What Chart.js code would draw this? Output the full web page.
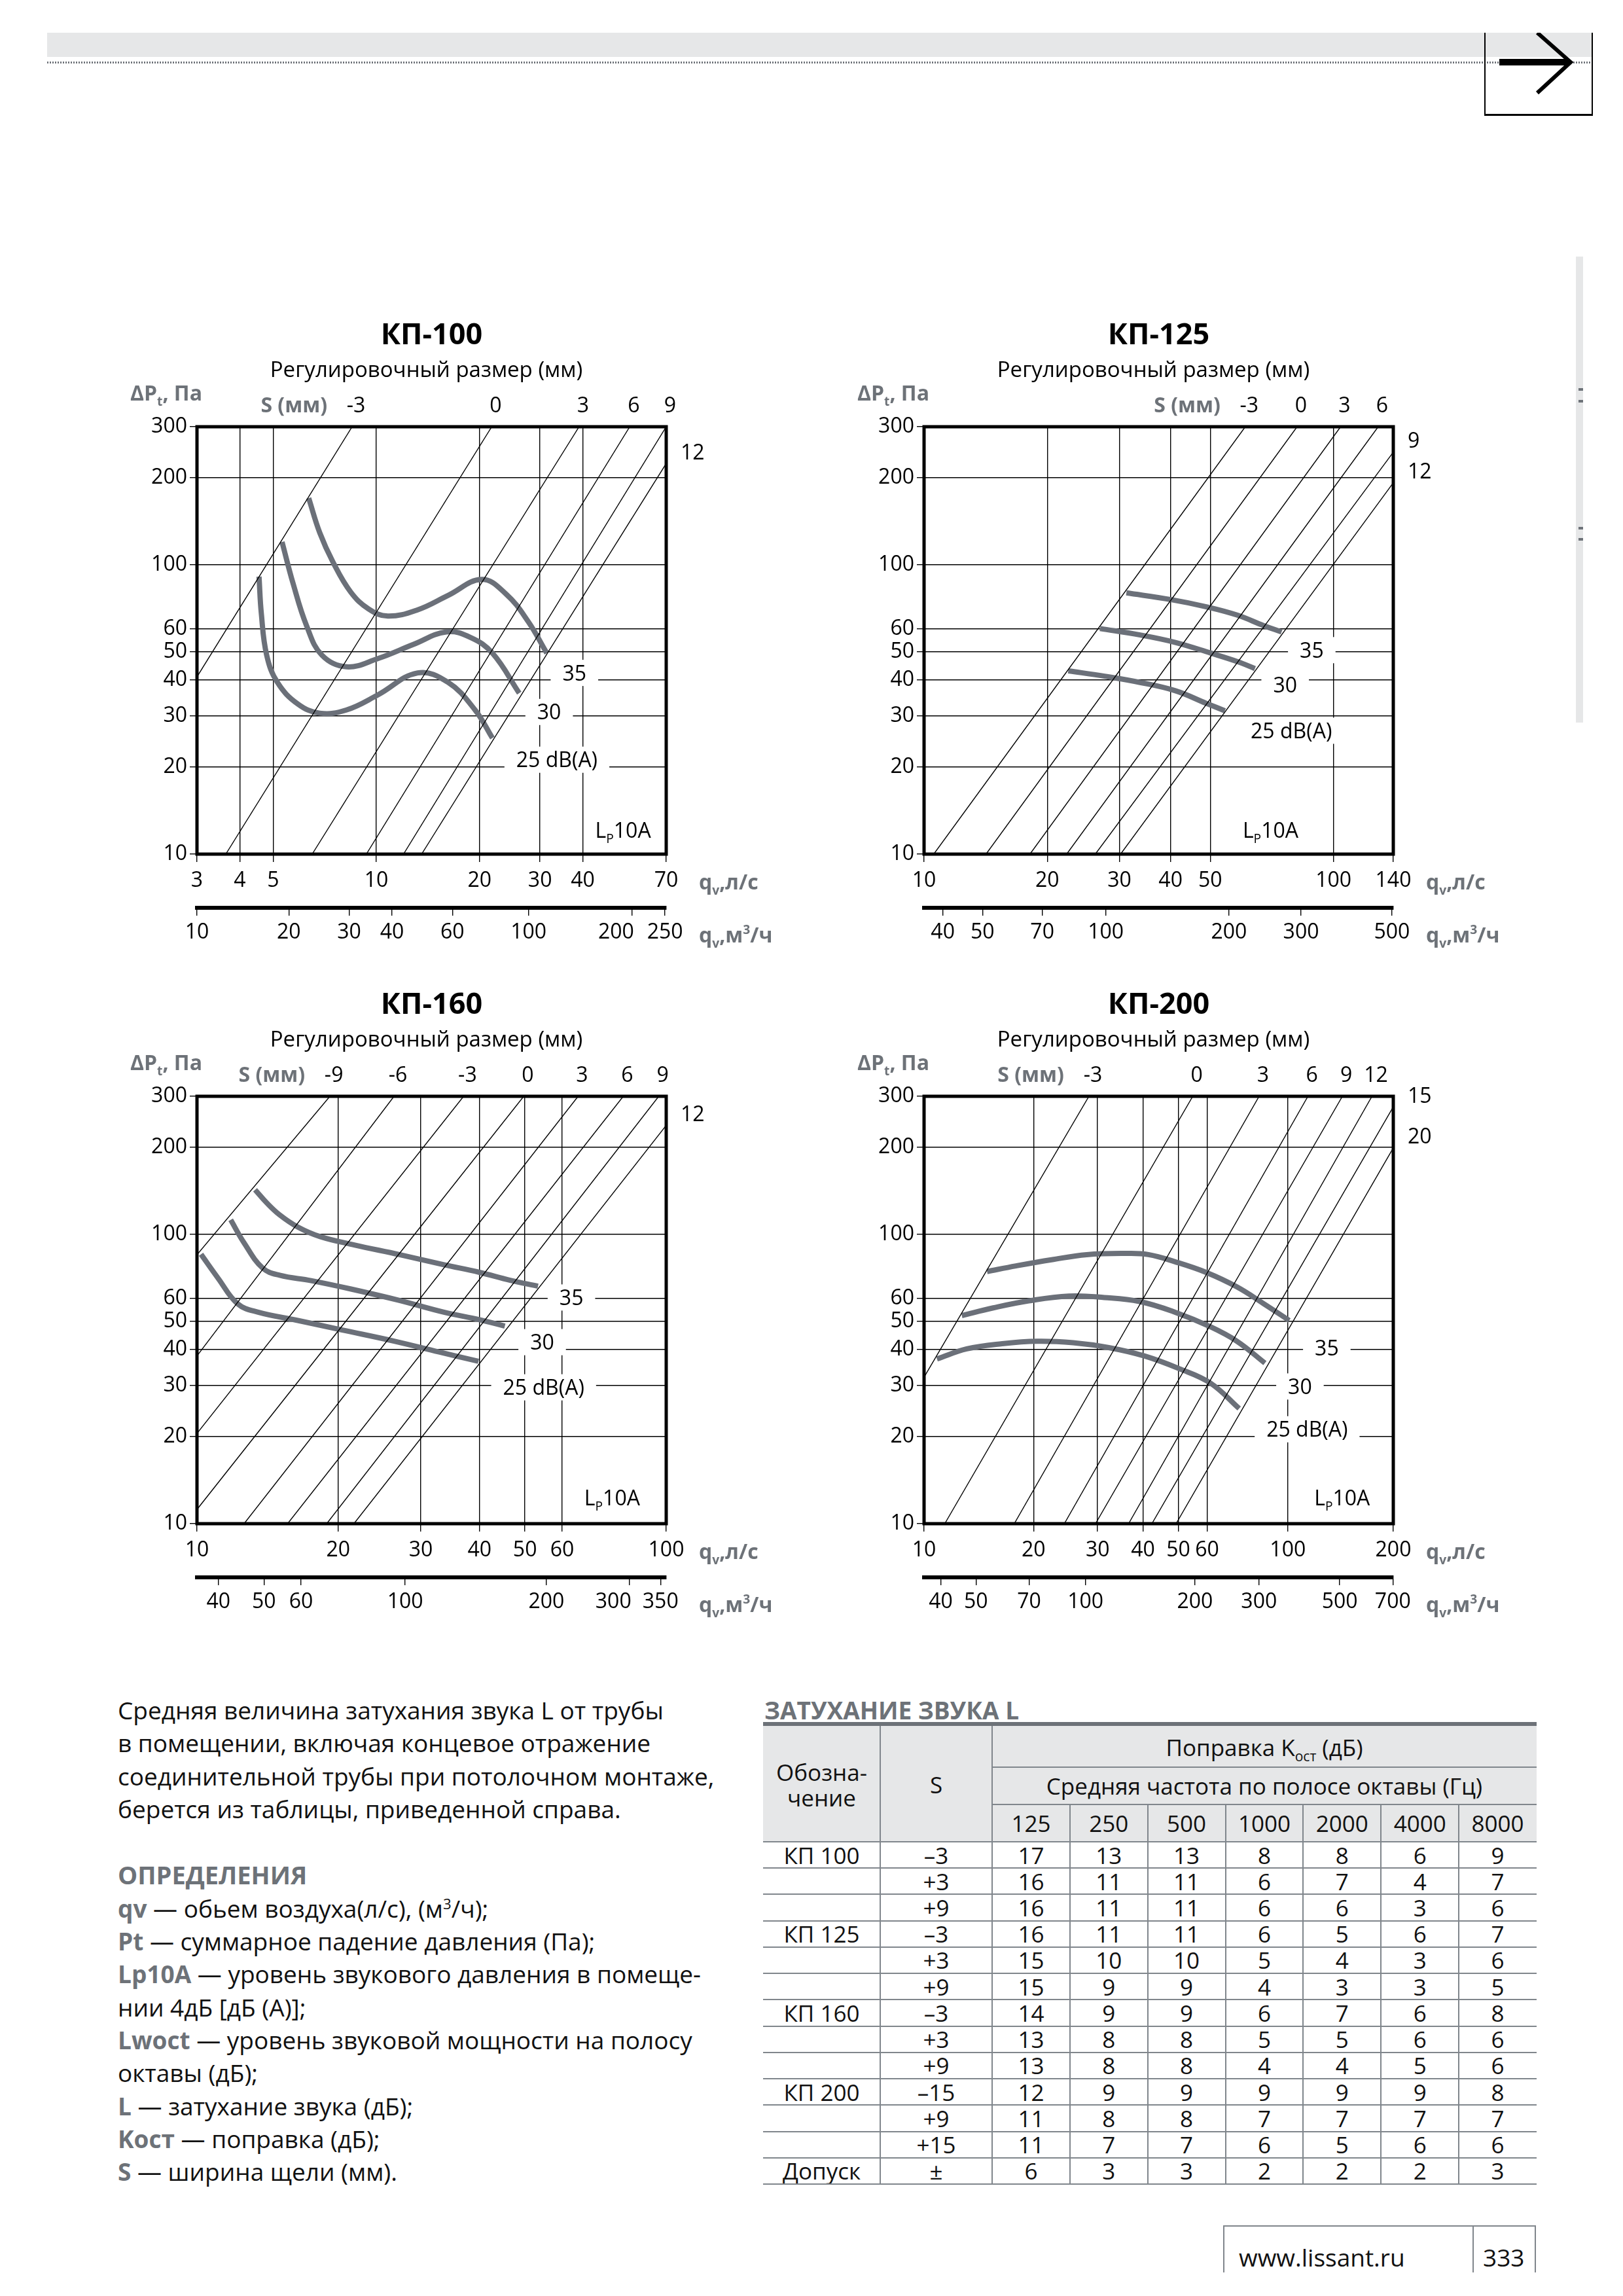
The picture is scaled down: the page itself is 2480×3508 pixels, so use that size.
<!DOCTYPE html>
<html lang="ru">
<head>
<meta charset="utf-8">
<title>КП-100 / КП-125 / КП-160 / КП-200</title>
<script src="https://cdn.jsdelivr.net/npm/chart.js@4.4.1/dist/chart.umd.min.js"></script>
<style>
  html, body { margin: 0; padding: 0; background: #fff; }
  body { width: 2480px; height: 3508px; position: relative; overflow: hidden;
         font-family: 'Open Sans', 'Noto Sans', sans-serif; color: #111; }
  .abs { position: absolute; }
  .band { left: 72px; top: 50px; width: 2360px; height: 37px; background: #e6e7e8; }
  .dots { left: 72px; top: 94px; width: 2360px; height: 3px;
          background: repeating-linear-gradient(90deg, #6d7278 0 2px, transparent 2px 4px); }
  .arrowbox { left: 2268px; top: 50px; width: 162px; height: 124px;
              border-left: 2px solid #000; border-right: 2px solid #000; border-bottom: 3px solid #000; }
  .sidebar { left: 2408px; top: 392px; width: 11px; height: 712px; background: #e6e7e8; }
  .sidemark { left: 2412px; width: 7px; height: 4px; background: #6d7278; }
  .txt { left: 180px; top: 2588px; font-size: 37px; line-height: 50.3px; white-space: nowrap; }
  .txt b { color: #6d7278; font-weight: 700; }
  .txt .h { color: #6d7278; font-weight: 700; font-size: 38px; }
  .ttl { left: 1168px; top: 2588px; font-size: 37px; line-height: 50px; font-weight: 700; color: #6d7278; }
  .cell { display: flex; align-items: center; justify-content: center; font-size: 35px; line-height: 1.12; text-align: center; }
  .ln { background: #80868c; }
  .foot { font-size: 37px; line-height: 50px; }
  sub, sup { font-size: 60%; line-height: 0; }
</style>
</head>
<body>

<div class="abs band"></div>
<div class="abs dots"></div>
<div class="abs arrowbox">
  <svg width="162" height="124" style="position:absolute;left:0;top:0">
    <polyline points="79,0 130,45 79,92" fill="none" stroke="#000" stroke-width="6"/>
    <rect x="21" y="40" width="108" height="10" fill="#000"/>
  </svg>
</div>
<div class="abs sidebar"></div>
<div class="abs sidemark" style="top:593px"></div>
<div class="abs sidemark" style="top:611px"></div>
<div class="abs sidemark" style="top:805px"></div>
<div class="abs sidemark" style="top:822px"></div>

<canvas id="kp100" class="abs" width="1100" height="1000" style="left:150px;top:468px"></canvas>
<canvas id="kp125" class="abs" width="1100" height="1000" style="left:1261px;top:468px"></canvas>
<canvas id="kp160" class="abs" width="1100" height="1000" style="left:150px;top:1491px"></canvas>
<canvas id="kp200" class="abs" width="1100" height="1000" style="left:1261px;top:1491px"></canvas>

<div class="abs txt">
  Средняя величина затухания звука L от трубы<br>
  в помещении, включая концевое отражение<br>
  соединительной трубы при потолочном монтаже,<br>
  берется из таблицы, приведенной справа.<br>
  <br>
  <span class="h">ОПРЕДЕЛЕНИЯ</span><br>
  <b>qv</b> — обьем воздуха(л/с), (м<sup>3</sup>/ч);<br>
  <b>Pt</b> — суммарное падение давления (Па);<br>
  <b>Lp10A</b> — уровень звукового давления в помеще-<br>
  нии 4дБ [дБ (A)];<br>
  <b>Lwoct</b> — уровень звуковой мощности на полосу<br>
  октавы (дБ);<br>
  <b>L</b> — затухание звука (дБ);<br>
  <b>Kост</b> — поправка (дБ);<br>
  <b>S</b> — ширина щели (мм).
</div>

<div class="abs ttl">ЗАТУХАНИЕ ЗВУКА L</div>
<div id="table"></div>

<div class="abs ln" style="left:1869px;top:3400px;width:478px;height:2px"></div>
<div class="abs ln" style="left:1869px;top:3400px;width:2px;height:72px"></div>
<div class="abs ln" style="left:2250px;top:3400px;width:2px;height:72px"></div>
<div class="abs ln" style="left:2345px;top:3400px;width:2px;height:72px"></div>
<div class="abs foot" style="left:1893px;top:3424px">www.lissant.ru</div>
<div class="abs foot" style="left:2266px;top:3424px">333</div>

<script>
// ---- shared axis values ----
const yTicks = [10, 20, 30, 40, 50, 60, 100, 200, 300];
const curveNames = ['35', '30', '25 dB(A)'];

// ---- КП-100 ----
const kp100Ls = [3, 4, 5, 10, 20, 30, 40, 70];
const kp100M3 = [10, 20, 30, 40, 60, 100, 200, 250];
const kp100S = ['-3', '0', '3', '6', '9', '12'];
const kp100From = [[3, 41], [3.64, 10], [6.5, 10], [9.35, 10], [12.0, 10], [13.55, 10]];
const kp100To = [[8.5, 300], [21.7, 300], [39, 300], [54.8, 300], [70, 300], [70, 224]];
const kp100C35 = [[6.35, 170], [6.84, 129], [7.48, 102], [8.42, 80.5], [9.49, 70.4], [10.8, 66.5],
                  [13.2, 69.9], [16.2, 78.4], [20.3, 89], [23.9, 79.2], [27.7, 63.7], [31.4, 49.5]];
const kp100C30 = [[5.31, 120], [5.72, 86.1], [6.26, 61.6], [6.94, 48.7], [8.18, 44.4], [10.1, 47.4],
                  [12.8, 53], [16.0, 58.6], [18.8, 56.1], [21.8, 49.5], [26.1, 36]];
const kp100C25 = [[4.55, 91], [4.62, 68], [4.79, 48.7], [5.15, 39.2], [5.89, 33.1], [6.84, 30.7],
                  [8.18, 31.5], [10.1, 35.5], [13.2, 42.3], [16.2, 39.2], [19.4, 31.5], [21.8, 25.2]];

// ---- КП-125 ----
const kp125Ls = [10, 20, 30, 40, 50, 100, 140];
const kp125M3 = [40, 50, 70, 100, 200, 300, 500];
const kp125S = ['-3', '0', '3', '6', '9', '12'];
const kp125From = [[10.56, 10], [14.17, 10], [18.14, 10], [22.3, 10], [26.2, 10], [30.2, 10]];
const kp125To = [[60.9, 300], [81.5, 300], [104.1, 300], [128.6, 300], [140, 245], [140, 192]];
const kp125C35 = [[31.2, 80], [40.1, 75.8], [48.9, 71.6], [58.2, 67], [67.6, 61.6], [74.7, 58.6]];
const kp125C30 = [[26.9, 60.2], [33.7, 57.2], [41.1, 53.9], [50.2, 49.5], [58.2, 46.3], [64.3, 43.8]];
const kp125C25 = [[22.5, 43], [27.6, 41.2], [33.7, 39.2], [41.1, 36.7], [48.9, 33.2], [54.3, 31.3]];

// ---- КП-160 ----
const kp160Ls = [10, 20, 30, 40, 50, 60, 100];
const kp160M3 = [40, 50, 60, 100, 200, 300, 350];
const kp160S = ['-9', '-6', '-3', '0', '3', '6', '9', '12'];
const kp160From = [[10, 85], [10, 38], [10, 20.5], [10, 11.2], [12.6, 10], [15.6, 10], [18.9, 10], [21.6, 10]];
const kp160To = [[19.2, 300], [26.3, 300], [37, 300], [49.7, 300], [64.9, 300], [81, 300], [96.4, 300], [100, 238]];
const kp160C35 = [[13.3, 142.6], [14.1, 128.2], [15.0, 116.8], [16.4, 106], [18.3, 98.2], [21.7, 91.8],
                  [27, 85.1], [33.6, 78.5], [40, 73.9], [46.5, 69.4], [53.3, 66.2]];
const kp160C30 = [[11.8, 112.2], [12.6, 93.4], [13.8, 76.5], [15, 72.2], [17.5, 69.2], [21.3, 64.7],
                  [27, 59.1], [33.6, 53.8], [40, 50.7], [45.3, 48.2]];
const kp160C25 = [[10.2, 85.3], [11.1, 70.4], [12.2, 57.6], [13.5, 53.8], [16.4, 50.4], [20.4, 46.7],
                  [26.4, 42.7], [32.8, 39.2], [39.8, 36.4]];

// ---- КП-200 ----
const kp200Ls = [10, 20, 30, 40, 50, 60, 100, 200];
const kp200M3 = [40, 50, 70, 100, 200, 300, 500, 700];
const kp200S = ['-3', '0', '3', '6', '9', '12', '15', '20'];
const kp200From = [[10, 32.1], [11.4, 10], [17.7, 10], [24.3, 10], [29.6, 10], [36.5, 10], [42.3, 10], [49.3, 10]];
const kp200To = [[28.4, 300], [54.8, 300], [83.4, 300], [113.6, 300], [141.3, 300], [170.4, 300], [195, 276], [195, 199]];
const kp200C35 = [[14.9, 74.4], [17.9, 77.8], [22.4, 81.7], [28, 85.1], [36, 85.9], [41.4, 85.1],
                  [49, 80.4], [59.6, 73.9], [72.5, 65.8], [85.8, 57.6], [100.9, 50.4]];
const kp200C30 = [[12.7, 52.4], [15.5, 55.7], [19.4, 58.9], [25, 61.2], [31.3, 60.5], [39.1, 58.6],
                  [49, 53.8], [61.3, 47.9], [72.5, 42.7], [86.5, 35.9]];
const kp200C25 = [[10.85, 37.1], [13.1, 40.2], [16.4, 41.9], [20.5, 42.7], [25.7, 42.2], [32.2, 40.6],
                  [40.3, 38], [50.4, 34.3], [61.3, 30.6], [73.5, 25]];

// ---- table ----
const tableFreq = ['125', '250', '500', '1000', '2000', '4000', '8000'];
const tableNames = ['КП 100', '', '', 'КП 125', '', '', 'КП 160', '', '', 'КП 200', '', '', 'Допуск'];
const tableS = ['–3', '+3', '+9', '–3', '+3', '+9', '–3', '+3', '+9', '–15', '+9', '+15', '±'];
const tableRows = [
  [17, 13, 13, 8, 8, 6, 9], [16, 11, 11, 6, 7, 4, 7], [16, 11, 11, 6, 6, 3, 6],
  [16, 11, 11, 6, 5, 6, 7], [15, 10, 10, 5, 4, 3, 6], [15, 9, 9, 4, 3, 3, 5],
  [14, 9, 9, 6, 7, 6, 8], [13, 8, 8, 5, 5, 6, 6], [13, 8, 8, 4, 4, 5, 6],
  [12, 9, 9, 9, 9, 9, 8], [11, 8, 8, 7, 7, 7, 7], [11, 7, 7, 6, 5, 6, 6],
  [6, 3, 3, 2, 2, 2, 3]
];

const GRAY = '#6d7278';
const CURVE = '#6b7079';
const FONT = "'Open Sans', 'Noto Sans', sans-serif";

function rich(ctx, parts, x, yc, size, weight, color, align) {
  const f = (s) => weight + ' ' + s + 'px ' + FONT;
  let w = 0;
  const ws = parts.map((p) => {
    ctx.font = f(p.sub || p.sup ? size * 0.6 : size);
    const m = ctx.measureText(p.t).width;
    w += m;
    return m;
  });
  let cx = align === 'right' ? x - w : align === 'center' ? x - w / 2 : x;
  const base = yc + size * 0.36;
  ctx.fillStyle = color;
  ctx.textAlign = 'left';
  ctx.textBaseline = 'alphabetic';
  parts.forEach((p, i) => {
    ctx.font = f(p.sub || p.sup ? size * 0.6 : size);
    const dy = p.sub ? size * 0.26 : p.sup ? -size * 0.4 : 0;
    ctx.fillText(p.t, cx, base + dy);
    cx += ws[i];
  });
  return w;
}

function makeDecor(c) {
  return {
    id: 'decor',
    afterDatasetsDraw(chart) {
      const { ctx, chartArea: a } = chart;
      const x = chart.scales.x, y = chart.scales.y;
      ctx.save();
      // curve labels with white backing
      c.notes.slice(0, 3).forEach((n, i) => {
        ctx.font = '32px ' + FONT;
        const w = ctx.measureText(curveNames[i]).width;
        const px = x.getPixelForValue(n[0]), py = y.getPixelForValue(n[1]);
        ctx.fillStyle = '#fff';
        ctx.fillRect(px - w / 2 - 18, py - 20, w + 36, 40);
        rich(ctx, [{ t: curveNames[i] }], px, py, 32, 'normal', '#000', 'center');
      });
      const lp = c.notes[3];
      rich(ctx, [{ t: 'L' }, { t: 'P', sub: 1 }, { t: '10A' }],
           x.getPixelForValue(lp[0]), y.getPixelForValue(lp[1]), 32, 'normal', '#000', 'center');
      // frame
      ctx.lineWidth = 5;
      ctx.strokeStyle = '#000';
      ctx.strokeRect(a.left, a.top, a.right - a.left, a.bottom - a.top);
      ctx.restore();
    },
    afterDraw(chart) {
      const { ctx, chartArea: a } = chart;
      const x = chart.scales.x, y = chart.scales.y;
      const cx = (a.left + a.right) / 2;
      ctx.save();
      rich(ctx, [{ t: c.title }], cx, a.top - 142, 45, 'bold', '#000', 'center');
      rich(ctx, [{ t: 'Регулировочный размер (мм)' }], cx - 8, a.top - 88, 33, 'normal', '#000', 'center');
      rich(ctx, [{ t: 'ΔP' }, { t: 't', sub: 1 }, { t: ', Па' }], a.left + 8, a.top - 52, 32, 'bold', GRAY, 'right');
      let firstTop = null;
      c.s.forEach((s, i) => {
        const end = c.to[i];
        if (end[1] >= 300) {
          const px = Math.min(x.getPixelForValue(end[0]) + 6, a.right + 8);
          if (firstTop === null) firstTop = px;
          rich(ctx, [{ t: s }], px, a.top - 34, 32, 'normal', '#000', 'center');
        } else {
          rich(ctx, [{ t: s }], a.right + 22, y.getPixelForValue(end[1]) - 18, 32, 'normal', '#000', 'left');
        }
      });
      rich(ctx, [{ t: 'S (мм)' }], firstTop - 44, a.top - 34, 32, 'bold', GRAY, 'right');
      rich(ctx, [{ t: 'q' }, { t: 'v', sub: 1 }, { t: ',л/с' }], a.right + 50, a.bottom + 42, 32, 'bold', GRAY, 'left');
      rich(ctx, [{ t: 'q' }, { t: 'v', sub: 1 }, { t: ',м' }, { t: '3', sup: 1 }, { t: '/ч' }],
           a.right + 50, a.bottom + 123, 32, 'bold', GRAY, 'left');
      ctx.restore();
    }
  };
}

function clamp(v, lo, hi) { return Math.min(Math.max(v, lo), hi); }

function buildChart(id, c) {
  const tickFont = { family: FONT, size: 32 };
  const lines = c.s.map((s, i) => ({
    data: [{ x: c.from[i][0], y: c.from[i][1] }, { x: c.to[i][0], y: c.to[i][1] }],
    showLine: true, borderColor: '#000', borderWidth: 1.4, pointRadius: 0, tension: 0
  }));
  const curves = c.curves.map((pts) => ({
    data: pts.map((p) => ({ x: p[0], y: p[1] })),
    showLine: true, borderColor: CURVE, borderWidth: 8, pointRadius: 0, tension: 0.4,
    borderCapStyle: 'butt'
  }));
  const m3Min = c.xMin * 3.6, m3Max = c.xMax * 3.6;
  // a label that sits too close to the axis end is shifted left, as in the printed chart
  const m3Label = (i) => String(c.m3[i]) + (i === c.m3Shift ? '\u2002\u2002\u2002' : '');
  return new Chart(document.getElementById(id), {
    type: 'scatter',
    data: { datasets: lines.concat(curves) },
    options: {
      responsive: false,
      animation: false,
      events: [],
      devicePixelRatio: 1,
      layout: { padding: { top: 184, left: 0, right: 232, bottom: 9 } },
      plugins: { legend: { display: false }, tooltip: { enabled: false } },
      scales: {
        x: {
          type: 'logarithmic', min: c.xMin, max: c.xMax, position: 'bottom', weight: 0,
          afterBuildTicks: (s) => { s.ticks = c.ls.map((v) => ({ value: clamp(v, c.xMin, c.xMax) })); },
          afterFit: (s) => { s.height = 82; },
          ticks: { callback: (v, i) => String(c.ls[i]), font: tickFont, color: '#000', padding: 10,
                   autoSkip: false, maxRotation: 0 },
          grid: { color: '#000', lineWidth: 1.4, tickLength: 12, tickColor: '#000', tickWidth: 1.4 },
          border: { display: false }
        },
        x2: {
          type: 'logarithmic', min: m3Min, max: m3Max, position: 'bottom', weight: 1,
          afterBuildTicks: (s) => { s.ticks = c.m3.map((v) => ({ value: clamp(v, m3Min, m3Max) })); },
          afterFit: (s) => { s.height = 72; },
          ticks: { callback: (v, i) => m3Label(i), font: tickFont, color: '#000', padding: 7,
                   autoSkip: false, maxRotation: 0 },
          grid: { drawOnChartArea: false, color: '#000', lineWidth: 1.4, tickLength: 12,
                  tickColor: '#000', tickWidth: 1.4 },
          border: { display: true, width: 6, color: '#000' }
        },
        y: {
          type: 'logarithmic', min: 10, max: 300, position: 'left',
          afterBuildTicks: (s) => { s.ticks = yTicks.map((v) => ({ value: v })); },
          afterFit: (s) => { s.width = 151; },
          ticks: { callback: (v, i) => String(yTicks[i]), font: tickFont, color: '#000', padding: 4,
                   autoSkip: false },
          grid: { color: '#000', lineWidth: 1.4, tickLength: 11, tickColor: '#000', tickWidth: 1.4 },
          border: { display: false }
        }
      }
    },
    plugins: [makeDecor(c)]
  });
}

buildChart('kp100', {
  title: 'КП-100', xMin: 3, xMax: 70, ls: kp100Ls, m3: kp100M3, m3Shift: 6,
  s: kp100S, from: kp100From, to: kp100To, curves: [kp100C35, kp100C30, kp100C25],
  notes: [[37.8, 42.3], [31.9, 31.0], [33.6, 21.2], [52.4, 12.1]]
});
buildChart('kp125', {
  title: 'КП-125', xMin: 10, xMax: 140, ls: kp125Ls, m3: kp125M3, m3Shift: -1,
  s: kp125S, from: kp125From, to: kp125To, curves: [kp125C35, kp125C30, kp125C25],
  notes: [[88.5, 50.7], [76.2, 38.5], [78.9, 26.7], [70.2, 12.1]]
});
buildChart('kp160', {
  title: 'КП-160', xMin: 10, xMax: 100, ls: kp160Ls, m3: kp160M3, m3Shift: 5,
  s: kp160S, from: kp160From, to: kp160To, curves: [kp160C35, kp160C30, kp160C25],
  notes: [[62.8, 60.5], [54.4, 42.4], [54.8, 29.6], [76.7, 12.3]]
});
buildChart('kp200', {
  title: 'КП-200', xMin: 10, xMax: 195, ls: kp200Ls, m3: kp200M3, m3Shift: -1,
  s: kp200S, from: kp200From, to: kp200To, curves: [kp200C35, kp200C30, kp200C25],
  notes: [[128, 40.6], [108, 29.8], [113, 21.2], [141, 12.3]]
});

// ---- attenuation table ----
(function () {
  const host = document.getElementById('table');
  const L = 1166, TOP = 2634, W = 1182;
  const colX = [L, L + 179, L + 350];
  const fw = (W - 350) / 7;
  for (let k = 1; k <= 7; k++) colX.push(L + 350 + k * fw);
  const hdr = [2640, 2700, 2757, 2814];
  const rowH = (3337 - 2814) / 13;
  const add = (html) => host.insertAdjacentHTML('beforeend', html);
  const box = (l, t, w, h, style) =>
    add('<div class="abs" style="left:' + l + 'px;top:' + t + 'px;width:' + w + 'px;height:' + h + 'px;' + style + '"></div>');
  const cell = (l, t, w, h, text) =>
    add('<div class="abs cell" style="left:' + l + 'px;top:' + t + 'px;width:' + w + 'px;height:' + h + 'px"><span>' + text + '</span></div>');

  box(L, TOP, W, hdr[3] - TOP, 'background:#e6e7e8');
  box(L, TOP - 3, W, 6, 'background:' + GRAY);

  cell(colX[0], hdr[0], 179, hdr[3] - hdr[0], 'Обозна-<br>чение');
  cell(colX[1], hdr[0], 171, hdr[3] - hdr[0], 'S');
  cell(colX[2], hdr[0], W - 350, hdr[1] - hdr[0], 'Поправка K<sub>ост</sub> (дБ)');
  cell(colX[2], hdr[1], W - 350, hdr[2] - hdr[1], 'Средняя частота по полосе октавы (Гц)');
  tableFreq.forEach((f, k) => cell(colX[2] + k * fw, hdr[2], fw, hdr[3] - hdr[2], f));

  tableRows.forEach((r, i) => {
    const t = hdr[3] + i * rowH;
    cell(colX[0], t, 179, rowH, tableNames[i]);
    cell(colX[1], t, 171, rowH, tableS[i]);
    r.forEach((v, k) => cell(colX[2] + k * fw, t, fw, rowH, String(v)));
  });

  const LN = 'background:#80868c';
  box(colX[1] - 1, TOP + 3, 2, 3337 - TOP - 3, LN);
  box(colX[2] - 1, TOP + 3, 2, 3337 - TOP - 3, LN);
  for (let k = 1; k < 7; k++) box(colX[2] + k * fw - 1, hdr[2], 2, 3337 - hdr[2], LN);
  box(colX[2], hdr[1] - 1, W - 350, 2, LN);
  box(colX[2], hdr[2] - 1, W - 350, 2, LN);
  for (let i = 0; i <= 13; i++) box(L, hdr[3] + i * rowH - 1, W, 2, LN);
})();
</script>
</body>
</html>
